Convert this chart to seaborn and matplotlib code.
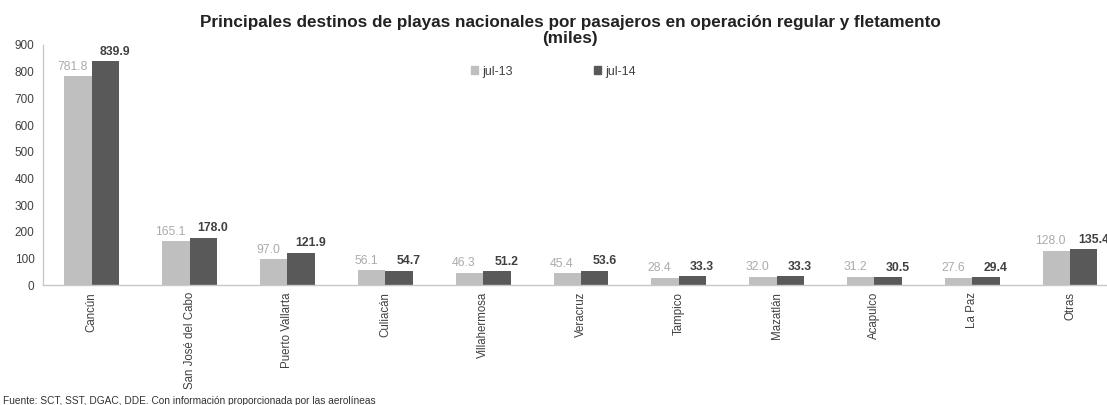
import matplotlib
matplotlib.use("Agg")
import matplotlib.pyplot as plt
import seaborn as sns
import pandas as pd

# Destinations and passengers (thousands)
destinos = ["Cancún", "San José del Cabo", "Puerto Vallarta", "Culiacán",
            "Villahermosa", "Veracruz", "Tampico", "Mazatlán", "Acapulco",
            "La Paz", "Otras"]
jul13 = [781.8, 165.1, 97.0, 56.1, 46.3, 45.4, 28.4, 32.0, 31.2, 27.6, 128.0]
jul14 = [839.9, 178.0, 121.9, 54.7, 51.2, 53.6, 33.3, 33.3, 30.5, 29.4, 135.4]
periodos = ["jul-13", "jul-14"]
yticks = [0, 100, 200, 300, 400, 500, 600, 700, 800, 900]

df = pd.DataFrame({
    "destino": destinos * 2,
    "periodo": [periodos[0]] * len(destinos) + [periodos[1]] * len(destinos),
    "pasajeros": jul13 + jul14,
})

sns.set_theme(style="white")
plt.rcParams["font.family"] = ["Liberation Sans", "DejaVu Sans"]

fig = plt.figure(figsize=(11.07, 4.05), dpi=100)
ax = fig.add_axes([0.0388, 0.296, 0.972, 0.593])

palette = {"jul-13": "#BFBFBF", "jul-14": "#595959"}
sns.barplot(data=df, x="destino", y="pasajeros", hue="periodo",
            order=destinos, hue_order=periodos, palette=palette,
            width=0.56, saturation=1, linewidth=0, ax=ax, legend=False)

ax.set_xlim(-0.5, len(destinos) - 0.5)
ax.set_ylim(0, 900)
ax.set_yticks(yticks)
ax.set_yticklabels([str(v) for v in yticks], fontsize=8.5, color="#404040")
ax.tick_params(axis="y", length=0, pad=6)
ax.tick_params(axis="x", length=0, pad=5)
ax.set_xticks(range(len(destinos)))
ax.set_xticklabels(destinos, rotation=90, fontsize=8.3, color="#404040",
                   va="top", ha="center")
ax.set_xlabel("")
ax.set_ylabel("")
for s in ["top", "right"]:
    ax.spines[s].set_visible(False)
for s in ["left", "bottom"]:
    ax.spines[s].set_color("#C8C8C8")
    ax.spines[s].set_linewidth(1.0)

# Value labels above each bar
styles = [
    dict(color="#ABABAB", fontweight="normal", dx=-4),
    dict(color="#404040", fontweight="bold", dx=7),
]
for container, vals, st in zip(ax.containers, [jul13, jul14], styles):
    for bar, v in zip(container, vals):
        ax.annotate(f"{v:.1f}",
                    xy=(bar.get_x() + bar.get_width() / 2, bar.get_height()),
                    xytext=(st["dx"], 2.5), textcoords="offset points",
                    ha="center", va="bottom", fontsize=8.8,
                    color=st["color"], fontweight=st["fontweight"],
                    annotation_clip=False)

# Legend with small square markers
handles = [plt.Rectangle((0, 0), 1, 1, color=palette[p]) for p in periodos]
ax.legend(handles, periodos, ncol=2, frameon=False, loc="center",
          bbox_to_anchor=(0.474, 0.888), columnspacing=6.5,
          handlelength=0.6, handleheight=0.6, handletextpad=0.3,
          fontsize=9, labelcolor="#404040")

fig.text(0.515, 1 - 15 / 405,
         "Principales destinos de playas nacionales por pasajeros en operación regular y fletamento\n(miles)",
         ha="center", va="top", fontsize=12.3, fontweight="bold",
         color="#222222", linespacing=1.08)

fig.text(0.003, 1.5 / 405,
         "Fuente: SCT, SST, DGAC, DDE. Con información proporcionada por las aerolíneas",
         ha="left", va="baseline", fontsize=7.3, color="#333333")

fig.savefig("out.png", dpi=100)
